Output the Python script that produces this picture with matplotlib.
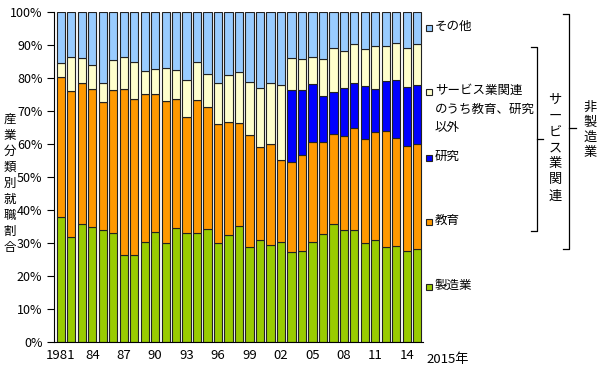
import numpy as np
import matplotlib
matplotlib.use('Agg')
import matplotlib.pyplot as plt

plt.rcParams['font.family'] = ['Noto Sans CJK JP', 'DejaVu Sans']

years = list(range(1981, 2016))
# cumulative tops (%)
manuf = [38.0, 31.8, 35.9, 35.0, 34.0, 33.1, 26.3, 26.3, 30.3, 33.4, 30.2, 34.7,
         33.2, 33.2, 34.2, 30.1, 32.6, 35.1, 28.9, 30.9, 29.4, 30.4, 27.4, 27.6,
         30.3, 32.8, 35.7, 34.1, 34.0, 30.1, 31.0, 28.8, 29.1, 27.7, 28.3]
edu_top = [80.2, 76.2, 78.4, 76.6, 72.7, 76.4, 76.7, 73.6, 75.1, 75.1, 73.0, 73.7,
           68.1, 73.3, 71.1, 66.1, 66.8, 66.3, 62.7, 59.1, 60.0, 55.2, 54.7, 56.7,
           60.7, 60.7, 63.2, 62.6, 65.0, 61.7, 63.7, 64.1, 61.9, 59.4, 60.1]
res_top = [80.2, 76.2, 78.4, 76.6, 72.7, 76.4, 76.7, 73.6, 75.1, 75.1, 73.0, 73.7,
           68.1, 73.3, 71.1, 66.1, 66.8, 66.3, 62.7, 59.1, 60.0, 55.2, 76.3, 76.3,
           78.1, 74.5, 75.7, 76.9, 78.5, 77.5, 76.7, 79.1, 79.4, 77.3, 77.9]
serv_top = [84.5, 86.5, 86.2, 84.0, 78.4, 85.5, 86.5, 85.0, 82.0, 82.7, 82.9, 82.5,
            79.5, 84.9, 81.1, 78.4, 80.9, 81.7, 78.7, 77.1, 78.5, 78.0, 86.2, 85.7,
            86.5, 85.8, 89.0, 88.2, 90.2, 88.9, 89.6, 89.6, 90.7, 89.2, 90.2]

manuf = np.array(manuf)
edu = np.array(edu_top) - manuf
res = np.array(res_top) - np.array(edu_top)
serv = np.array(serv_top) - np.array(res_top)
other = 100 - np.array(serv_top)

series = [
    ('製造業', manuf, '#99CC00'),
    ('教育', edu, '#FF9900'),
    ('研究', res, '#0000FF'),
    ('サービス業関連\nのうち教育、研究\n以外', serv, '#FFFFCC'),
    ('その他', other, '#99CCFF'),
]

fig = plt.figure(figsize=(6, 3.79), dpi=100)
ax = fig.add_axes([53.5/600, 1-342.3/379, 369.5/600, 330.3/379])

x = np.arange(len(years))
bottom = np.zeros(len(years))
for name, vals, col in series:
    ax.bar(x, vals, bottom=bottom, width=0.79, color=col, edgecolor='#222222', linewidth=0.8)
    bottom = bottom + vals

ax.set_xlim(-0.7, len(years) - 0.45)
ax.set_ylim(0, 100)
ax.set_yticks(np.arange(0, 101, 10))
ax.set_yticklabels(['%d%%' % v for v in range(0, 101, 10)], fontsize=9)
xt = x[::3]
ax.set_xticks(xt)
ax.set_xticklabels(['1981'] + ['%02d' % (years[i] % 100) for i in xt[1:]], fontsize=9.5)
ax.tick_params(axis='x', length=0, pad=5)
ax.tick_params(axis='y', length=5, pad=3)
for s in ['top', 'right']:
    ax.spines[s].set_visible(False)

# overlay in pixel coords for labels, legend and brackets
ov = fig.add_axes([0, 0, 1, 1])
ov.set_xlim(0, 600)
ov.set_ylim(379, 0)
ov.axis('off')

ov.text(426, 359, '2015年', fontsize=9.5, va='center', ha='left')
ov.text(10, 183, '\n'.join('産業分類別就職割合'), fontsize=9, ha='center', va='center',
        linespacing=1.3)

leg_y = [287, 222, 158, 92, 28]
for (name, vals, col), ly in zip(series, leg_y):
    ov.add_patch(plt.Rectangle((426, ly - 3.5), 6, 6, facecolor=col, edgecolor='#222222', lw=0.8))
    ov.text(435, ly - 8, name, fontsize=9, va='top', ha='left', linespacing=1.55)

kw = dict(color='black', lw=0.9)
# inner bracket
ov.plot([531, 537, 537, 531], [47, 47, 231, 231], **kw)
ov.plot([537, 543], [139, 139], **kw)
ov.text(555, 148, '\n'.join('サービス業関連'), fontsize=9.5, ha='center', va='center', linespacing=1.3)
# outer bracket
ov.plot([563, 569, 569, 563], [14, 14, 249, 249], **kw)
ov.plot([569, 576], [128, 128], **kw)
ov.text(590, 130, '\n'.join('非製造業'), fontsize=9.5, ha='center', va='center', linespacing=1.2)

fig.savefig('out.png', dpi=100)
